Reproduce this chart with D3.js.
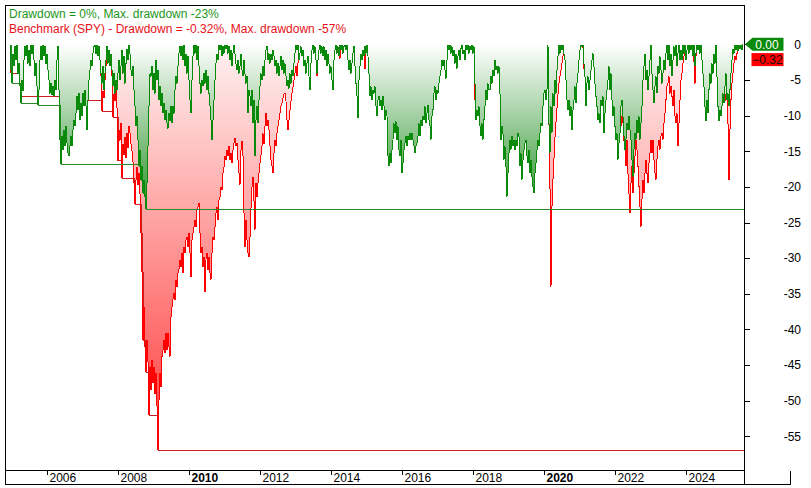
<!DOCTYPE html>
<html>
<head>
<meta charset="utf-8">
<script src="https://cdn.jsdelivr.net/npm/d3@7"></script>
<style>
html,body{margin:0;padding:0;background:#fff;}
svg{display:block;}
text{font-family:Arial,"Liberation Sans",sans-serif;}
</style>
</head>
<body>
<svg id="chart" width="811" height="488"></svg>
<script>
// ---- DATA (drawdown in %, sampled on a regular time grid) ----
const sampleStartYear = 2004.952;   // first sample (decimal year)
const sampleStepYears = 0.02817;    // ~10 days between samples

const strategyDD = [
 -0.1,-3.6,-5.4,-1.3,-3.1,-0.3,-2.2,-0.1,-4.1,-2.7,
 -5.9,-8.3,-5.0,-6.6,-2.2,-0.3,-1.7,-0.1,-2.7,-0.8,
 -3.1,-0.1,-1.3,-0.1,-2.2,-4.5,-2.7,-5.9,-8.5,-6.4,
 -2.2,-0.3,-2.2,-0.1,-1.7,-0.3,-2.7,-1.3,-3.6,-5.0,
 -6.9,-5.5,-7.1,-5.9,-7.3,-5.0,-6.4,-2.2,-0.3,-6.4,
 -13.4,-16.8,-12.9,-14.8,-12.0,-14.3,-11.5,-13.9,-15.3,-15.7,
 -14.3,-12.9,-14.3,-12.0,-10.6,-11.5,-9.7,-7.3,-9.2,-6.9,
 -10.6,-8.3,-10.1,-6.9,-8.7,-6.4,-8.7,-12.0,-7.8,-5.0,
 -3.6,-2.2,-3.1,-1.3,-0.3,-0.1,-1.3,-0.1,-1.7,-0.3,
 -2.2,-4.1,-5.5,-3.1,-6.4,-4.1,-2.2,-0.3,-2.7,-0.8,
 -3.1,-1.3,-3.6,-5.9,-4.1,-6.9,-5.0,-6.4,-4.1,-2.2,
 -5.0,-3.1,-0.8,-4.1,-1.7,-5.5,-2.7,-0.6,-2.2,-0.1,
 -1.3,-3.6,-4.5,-3.1,-6.4,-8.7,-11.5,-10.1,-13.4,-17.1,
 -14.8,-19.0,-17.1,-20.9,-19.0,-21.4,-23.1,-19.5,-14.3,-8.7,
 -4.1,-4.5,-3.1,-6.4,-4.1,-6.9,-2.2,-5.0,-3.6,-7.8,
 -5.9,-8.7,-6.9,-9.7,-8.3,-10.6,-9.2,-11.1,-11.8,-9.7,
 -10.8,-8.7,-11.1,-8.7,-9.7,-6.4,-4.5,-5.5,-3.1,-1.3,
 -0.3,-1.7,-0.3,-2.2,-0.1,-3.1,-1.3,-4.1,-1.7,-5.0,
 -7.8,-9.7,-5.0,-1.7,-0.1,-1.3,-0.1,-2.2,-0.3,-3.1,
 -5.5,-6.9,-5.0,-5.9,-4.1,-5.5,-3.6,-6.4,-4.5,-6.9,
 -8.7,-10.6,-13.4,-10.6,-7.8,-5.0,-2.7,-1.3,-2.2,-0.1,
 -0.8,-0.1,-1.7,-0.3,-1.3,-0.1,-0.6,-0.1,-1.3,-0.3,
 -2.2,-0.8,-3.1,-1.3,-0.1,-1.3,-2.7,-3.6,-2.2,-4.1,
 -3.1,-1.3,-3.6,-4.5,-2.2,-4.1,-5.5,-4.5,-9.7,-6.4,
 -7.3,-8.7,-6.4,-11.1,-7.8,-15.7,-10.6,-8.7,-11.1,-7.8,
 -5.9,-4.1,-5.0,-3.1,-4.5,-2.2,-0.8,-0.3,-2.2,-1.3,
 -2.7,-1.3,-2.2,-0.8,-1.7,-3.1,-2.2,-4.1,-2.7,-4.5,
 -3.1,-1.7,-3.6,-2.2,-4.1,-2.7,-4.5,-5.9,-5.0,-6.2,
 -4.1,-5.5,-3.6,-4.5,-2.7,-1.3,-0.1,-0.8,-0.1,-2.2,
 -1.3,-0.3,-1.7,-0.8,-3.1,-2.2,-4.1,-2.7,-1.7,-4.5,
 -6.4,-2.7,-0.8,-0.1,-1.3,-0.3,-2.2,-4.1,-2.2,-0.8,
 -0.1,-1.3,-0.3,-1.7,-0.3,-2.2,-0.8,-3.1,-1.3,-2.7,
 -4.1,-3.1,-5.0,-6.4,-2.2,-0.8,-0.1,-1.3,-0.3,-1.7,
 -0.1,-0.8,-0.1,-1.3,-0.3,-0.1,-0.8,-0.1,-2.2,-3.6,
 -2.2,-4.1,-2.7,-1.3,-0.3,-3.1,-5.5,-7.3,-10.4,-5.0,
 -3.1,-1.3,-2.2,-0.8,-1.7,-0.3,-1.3,-0.1,-1.7,-4.1,
 -7.3,-5.9,-7.8,-6.4,-6.9,-5.9,-8.7,-10.1,-7.8,-7.3,
 -8.7,-7.8,-9.2,-7.3,-8.7,-10.6,-9.2,-10.1,-15.7,-17.1,
 -15.3,-16.7,-14.8,-13.4,-11.1,-12.5,-10.8,-13.4,-11.5,-14.8,
 -15.7,-13.4,-18.1,-16.7,-14.8,-13.9,-12.9,-14.3,-12.9,-13.4,
 -12.5,-13.4,-12.5,-13.4,-14.3,-15.3,-14.3,-13.9,-12.9,-11.1,
 -12.9,-10.6,-11.5,-10.1,-10.6,-8.7,-11.1,-9.7,-8.5,-10.6,
 -11.5,-13.4,-10.1,-9.2,-6.9,-5.9,-7.8,-6.4,-6.9,-5.5,
 -4.5,-3.6,-2.2,-3.1,-2.2,-3.6,-4.8,-2.2,-0.1,-0.8,
 -0.1,-1.3,-0.3,-1.7,-0.8,-2.7,-1.3,-3.4,-1.7,-0.8,
 -2.2,-0.6,-0.1,-1.3,-0.8,-2.2,-0.1,-0.8,-0.1,-1.3,
 -0.3,-0.8,-0.1,-1.3,-0.3,-5.5,-10.6,-9.2,-10.1,-8.7,
 -11.5,-12.9,-11.1,-13.4,-10.6,-8.7,-6.4,-7.8,-5.5,-6.4,
 -6.4,-4.5,-5.5,-3.6,-4.5,-2.2,-3.6,-3.1,-4.1,-3.1,
 -6.9,-13.4,-11.5,-12.5,-16.2,-14.3,-17.1,-21.4,-18.1,-15.3,
 -13.4,-14.8,-12.9,-14.3,-13.4,-14.8,-13.4,-14.3,-12.5,-12.9,
 -17.1,-15.3,-19.0,-16.2,-14.8,-13.9,-13.4,-15.7,-16.7,-14.8,
 -18.1,-16.2,-18.6,-20.0,-20.9,-18.1,-16.7,-14.8,-13.4,-14.3,
 -12.5,-11.1,-11.5,-8.7,-6.9,-6.4,-7.8,-6.4,-0.1,-11.1,
 -15.3,-8.7,-12.5,-6.9,-8.7,-5.0,-6.9,-3.6,-1.7,-0.1,
 -1.3,-0.1,-0.8,-0.1,-1.3,-2.2,-5.0,-7.8,-9.2,-7.8,
 -10.1,-8.7,-12.0,-9.2,-7.8,-5.9,-8.3,-5.5,-4.1,-2.2,
 -0.8,-0.1,-0.3,-0.1,-2.7,-4.5,-8.7,-5.5,-4.5,-6.4,
 -5.0,-3.6,-2.2,-1.3,-3.1,-5.5,-7.3,-8.7,-10.6,-9.7,
 -11.1,-7.8,-8.7,-7.3,-12.5,-9.7,-7.8,-6.4,-5.0,-3.1,
 -6.4,-4.1,-7.8,-10.1,-8.7,-11.5,-13.4,-12.5,-16.2,-13.9,
 -12.5,-8.7,-7.8,-10.1,-12.9,-14.8,-13.4,-11.1,-12.0,-10.1,
 -12.0,-13.4,-16.2,-18.6,-14.8,-12.5,-13.4,-10.6,-12.5,-10.1,
 -13.4,-11.1,-8.7,-5.0,-3.1,-1.3,-5.0,-3.6,-6.4,-4.5,
 -2.2,-0.1,-4.1,-6.4,-8.3,-5.9,-4.5,-6.9,-3.1,-4.1,
 -1.7,-3.6,-5.5,-4.1,-2.2,-3.6,-1.3,-0.1,-2.2,-0.1,
 -3.1,-1.3,-4.5,-2.2,-0.3,-1.7,-0.1,-3.1,-1.3,-0.1,
 -2.2,-0.8,-2.2,-0.1,-1.3,-0.1,-2.2,-0.8,-0.1,-1.3,
 -0.1,-0.8,-0.1,-1.7,-0.1,-3.1,-1.3,-0.1,-0.8,-0.1,
 -1.3,-0.1,-2.2,-4.1,-5.9,-8.7,-10.8,-7.8,-9.7,-6.4,
 -4.1,-5.5,-2.7,-4.1,-1.3,-2.7,-0.1,-4.5,-8.7,-10.8,
 -9.2,-10.1,-8.7,-6.9,-8.3,-5.9,-4.1,-7.8,-6.9,-8.7,
 -6.4,-4.1,-2.2,-0.6,-1.3,-0.1,-0.8,-0.1,-1.0,-0.1,
 -0.6,-0.1,-0.8,0
];

const benchmarkDD = [
 -0.1,-4.0,-2.5,-1.5,-2.8,-1.0,-2.0,-0.5,-3.5,-2.5,
 -5.0,-7.3,-4.5,-5.5,-2.0,-0.8,-1.5,-0.3,-2.0,-0.8,
 -2.5,-0.3,-1.0,-0.2,-1.8,-3.0,-2.0,-3.5,-5.0,-4.0,
 -1.5,-0.5,-1.5,-0.2,-1.0,-0.3,-1.5,-1.0,-2.0,-3.0,
 -3.5,-3.0,-4.0,-3.0,-3.5,-2.5,-3.0,-1.0,-0.2,-2.0,
 -4.5,-7.0,-5.5,-6.5,-5.0,-6.0,-5.0,-5.5,-6.0,-6.5,
 -6.0,-5.0,-5.5,-4.5,-4.0,-4.5,-3.5,-2.5,-3.0,-2.0,
 -3.0,-2.5,-3.0,-2.0,-2.5,-1.5,-2.0,-7.8,-5.0,-3.0,
 -2.5,-1.5,-2.0,-1.0,-0.3,-0.1,-0.8,-0.2,-1.2,-0.5,
 -2.0,-4.5,-9.4,-6.5,-7.5,-5.0,-3.0,-1.0,-2.5,-1.5,
 -3.0,-2.0,-4.5,-10.2,-7.0,-8.0,-6.0,-9.0,-16.3,-12.0,
 -13.5,-11.0,-18.7,-14.0,-15.5,-13.0,-16.0,-12.5,-14.5,-11.5,
 -12.5,-14.0,-15.0,-16.5,-19.5,-22.4,-19.0,-17.2,-19.8,-18.0,
 -21.0,-26.5,-32.0,-41.5,-36.8,-42.4,-45.9,-41.5,-44.5,-52.0,
 -45.2,-48.5,-44.3,-47.5,-45.2,-49.0,-46.1,-50.8,-56.9,-49.9,
 -46.1,-48.0,-43.8,-42.9,-41.5,-43.3,-40.5,-42.9,-40.5,-42.4,
 -43.8,-38.2,-36.8,-35.8,-34.9,-35.8,-33.0,-34.0,-32.1,-31.6,
 -30.2,-31.2,-29.3,-32.1,-28.4,-29.3,-27.4,-27.0,-28.4,-26.5,
 -29.3,-32.6,-27.4,-26.5,-25.6,-24.6,-25.6,-23.2,-22.8,-22.3,
 -26.5,-29.3,-28.4,-31.2,-29.8,-34.7,-30.2,-29.3,-31.6,-29.8,
 -32.1,-33.0,-29.3,-27.0,-27.4,-25.6,-23.7,-22.8,-24.6,-21.8,
 -21.4,-20.0,-20.4,-18.1,-17.2,-15.7,-16.2,-14.8,-15.7,-14.3,
 -16.2,-15.3,-16.7,-14.8,-13.9,-13.2,-14.3,-13.9,-16.2,-18.1,
 -19.7,-14.8,-13.6,-15.7,-23.7,-28.4,-24.6,-27.4,-29.3,-29.8,
 -27.0,-23.0,-20.0,-18.6,-22.0,-26.0,-19.5,-21.4,-19.5,-18.1,
 -16.7,-15.5,-14.3,-12.5,-14.0,-11.5,-9.7,-11.5,-10.6,-12.0,
 -14.3,-16.2,-17.1,-18.1,-15.3,-13.4,-14.3,-12.5,-11.5,-10.6,
 -9.7,-8.7,-8.3,-7.6,-7.0,-6.8,-8.0,-10.6,-12.0,-10.6,
 -9.2,-8.0,-6.9,-6.0,-5.0,-4.1,-3.1,-4.5,-2.7,-1.3,
 -1.0,-0.3,-0.8,-0.3,-1.5,-1.0,-2.0,-1.5,-1.0,-2.5,
 -3.5,-1.5,-0.5,-0.1,-0.5,-0.2,-1.5,-4.5,-1.5,-0.5,
 -0.1,-0.8,-0.2,-1.0,-0.2,-1.3,-0.5,-2.0,-0.8,-1.5,
 -2.5,-2.0,-3.0,-4.0,-1.5,-0.5,-0.1,-0.8,-0.2,-1.0,
 -2.0,-0.5,-0.1,-0.8,-0.2,-0.1,-0.5,-0.1,-1.0,-2.0,
 -1.0,-2.5,-1.5,-0.5,-0.2,-1.5,-3.0,-4.0,-5.5,-2.5,
 -1.5,-0.5,-1.0,-0.3,-0.8,-3.5,-1.0,-0.2,-1.5,-3.5,
 -4.5,-2.5,-3.0,-2.0,-2.5,-1.5,-3.0,-3.5,-2.5,-2.0,
 -3.0,-2.5,-3.5,-2.5,-3.0,-4.0,-3.5,-4.0,-9.5,-12.0,
 -10.0,-11.5,-10.0,-8.5,-6.5,-7.5,-6.5,-8.0,-7.0,-9.0,
 -10.5,-9.0,-13.0,-12.0,-10.5,-9.0,-7.5,-8.0,-6.5,-6.0,
 -5.0,-5.5,-4.0,-3.5,-4.5,-5.5,-4.0,-3.0,-2.0,-1.5,
 -2.5,-1.0,-1.5,-0.5,-1.0,-0.3,-1.5,-0.8,-0.3,-1.0,
 -1.5,-3.0,-1.5,-0.8,-0.3,-0.1,-0.5,-0.2,-0.5,-0.1,
 -0.3,-0.1,-0.2,-0.5,-0.1,-0.8,-1.2,-0.3,-0.1,-0.3,
 -0.1,-0.5,-0.1,-0.4,-0.1,-0.6,-0.2,-0.8,-0.3,-0.1,
 -0.5,-0.1,-0.1,-0.3,-0.1,-0.5,-0.1,-0.2,-0.1,-0.3,
 -0.1,-0.2,-0.1,-0.3,-0.1,-7.8,-9.5,-8.0,-9.0,-7.0,
 -8.5,-9.5,-8.0,-9.0,-7.0,-5.5,-4.0,-5.0,-3.5,-4.0,
 -3.0,-2.0,-2.5,-1.5,-1.0,-0.3,-0.8,-0.2,-0.5,-0.1,
 -4.0,-9.0,-8.0,-9.5,-12.0,-11.0,-14.0,-19.4,-15.0,-11.0,
 -8.5,-8.0,-6.5,-5.5,-4.5,-3.5,-2.5,-2.0,-1.0,-0.5,
 -3.5,-2.5,-6.0,-3.5,-2.0,-1.0,-0.5,-2.0,-3.0,-1.5,
 -4.0,-2.5,-5.0,-4.0,-6.0,-4.0,-3.0,-2.0,-1.5,-1.0,
 -0.5,-0.2,-0.5,-0.1,-0.3,-0.1,-0.5,-0.1,-2.0,-11.0,
 -20.0,-34.0,-22.8,-19.0,-16.0,-13.0,-11.0,-9.0,-7.0,-5.5,
 -4.5,-3.6,-2.7,-1.7,-0.8,-0.1,-2.0,-5.0,-7.0,-5.5,
 -8.0,-6.0,-9.0,-6.5,-5.0,-3.0,-4.5,-2.0,-1.0,-0.3,
 -0.1,-0.2,-0.1,-0.5,-3.5,-2.0,-1.5,-0.5,-0.3,-1.0,
 -0.5,-0.2,-0.1,-0.3,-0.8,-1.5,-2.5,-3.5,-4.0,-3.0,
 -4.5,-2.5,-3.0,-2.0,-5.0,-3.5,-2.0,-1.0,-0.5,-0.2,
 -1.0,-0.5,-2.0,-4.0,-3.0,-5.5,-7.5,-6.5,-9.5,-12.0,
 -12.5,-11.5,-10.0,-11.0,-13.5,-14.8,-17.1,-13.4,-18.1,-20.9,
 -23.7,-19.5,-17.1,-20.9,-18.1,-15.7,-13.4,-14.8,-17.1,-19.9,
 -22.8,-25.6,-21.8,-19.0,-20.9,-18.1,-16.2,-18.1,-19.5,-16.7,
 -15.3,-13.4,-15.3,-13.4,-16.2,-18.1,-19.0,-16.2,-14.3,-13.4,
 -14.8,-12.9,-12.5,-13.4,-11.1,-9.7,-7.8,-5.9,-5.5,-4.5,
 -6.9,-5.9,-7.3,-8.7,-6.4,-10.1,-11.1,-9.7,-14.3,-11.1,
 -7.8,-5.0,-4.1,-2.7,-1.7,-0.8,-0.1,-0.5,-0.1,-0.8,
 -0.2,-0.5,-0.1,-1.0,-2.5,-5.5,-1.7,-0.3,-0.5,-0.1,
 -0.8,-0.2,-1.5,-3.0,-5.0,-7.5,-8.5,-6.0,-7.0,-5.0,
 -3.0,-4.0,-2.0,-3.0,-1.0,-2.0,-0.1,-2.5,-5.0,-7.0,
 -6.0,-7.5,-6.5,-6.0,-7.5,-8.0,-7.0,-6.0,-11.1,-19.1,
 -12.0,-7.8,-5.5,-4.1,-2.7,-1.7,-2.2,-1.3,-0.8,-0.3,
 -0.5,-0.2,-0.4,-0.32
];

const yTickValues = [0,-5,-10,-15,-20,-25,-30,-35,-40,-45,-50,-55];
const xTickYears  = [2006,2008,2010,2012,2014,2016,2018,2020,2022,2024];
const boldYears   = [2010,2020];
const benchmarkName = "SPY";

// ---- LAYOUT ----
const plot = {left:5, right:744.5, top:5, bottom:470, stripBottom:484.5};
const svg = d3.select("#chart");

const x = d3.scaleLinear().domain([2004.811, 2025.643]).range([plot.left, plot.right]);
const y = d3.scaleLinear().domain([5.51, -59.71]).range([plot.top, plot.bottom]);

const toSeries = arr => arr.map((v,i) => ({t: sampleStartYear + i*sampleStepYears, v}));
const gS = toSeries(strategyDD);
const rS = toSeries(benchmarkDD);
const runMin = s => { let m = 0; return s.map(d => { m = Math.min(m, d.v); return {t:d.t, v:m}; }); };
const gMin = runMin(gS), rMin = runMin(rS);

const GREEN = "#0a8a0a", RED = "#ff0000";

// gradients
const defs = svg.append("defs");
function grad(id, v1, c0, c1){
  const g = defs.append("linearGradient").attr("id", id)
    .attr("gradientUnits","userSpaceOnUse")
    .attr("x1",0).attr("x2",0).attr("y1",y(0)).attr("y2",y(v1));
  g.append("stop").attr("offset",0).attr("stop-color",c0);
  g.append("stop").attr("offset",1).attr("stop-color",c1);
}
grad("gGrad", d3.min(strategyDD), "#ffffff", "#2a932a");
grad("rGrad", d3.min(benchmarkDD), "#fff2f2", "#ff3a3a");

const clip = defs.append("clipPath").attr("id","plotClip");
clip.append("rect").attr("x",plot.left).attr("y",plot.top)
  .attr("width",plot.right-plot.left).attr("height",plot.bottom-plot.top);

const area = d3.area().x(d => x(d.t)).y0(y(0)).y1(d => y(d.v));
const line = d3.line().x(d => x(d.t)).y(d => y(d.v));
const step = d3.line().x(d => Math.round(x(d.t))+0.5).y(d => Math.round(y(d.v))+0.5).curve(d3.curveStepAfter);

const g = svg.append("g").attr("clip-path","url(#plotClip)");
g.append("path").datum(rS).attr("d",area).attr("fill","url(#rGrad)");
g.append("path").datum(rMin).attr("d",step).attr("fill","none").attr("stroke","#cc1f1f").attr("stroke-width",1).attr("shape-rendering","crispEdges");
g.append("path").datum(rS).attr("d",line).attr("fill","none").attr("stroke",RED).attr("stroke-width",1).attr("shape-rendering","crispEdges");
g.append("path").datum(gS).attr("d",area).attr("fill","url(#gGrad)");
g.append("path").datum(gMin).attr("d",step).attr("fill","none").attr("stroke","#2a8a2a").attr("stroke-width",1).attr("shape-rendering","crispEdges");
g.append("path").datum(gS).attr("d",line).attr("fill","none").attr("stroke",GREEN).attr("stroke-width",1).attr("shape-rendering","crispEdges");

// ---- FRAME & AXES ----
const frame = svg.append("g").attr("stroke","#000").attr("stroke-width",1).attr("shape-rendering","crispEdges");
frame.append("line").attr("x1",5.5).attr("x2",5.5).attr("y1",5).attr("y2",plot.stripBottom);
frame.append("line").attr("x1",5).attr("x2",plot.right).attr("y1",5.5).attr("y2",5.5);
frame.append("line").attr("x1",plot.right).attr("x2",plot.right).attr("y1",5).attr("y2",plot.stripBottom);
frame.append("line").attr("x1",5).attr("x2",plot.right).attr("y1",plot.bottom+0.5).attr("y2",plot.bottom+0.5);
frame.append("line").attr("x1",5).attr("x2",790.5).attr("y1",plot.stripBottom).attr("y2",plot.stripBottom);
frame.append("line").attr("x1",790.5).attr("x2",790.5).attr("y1",plot.bottom+0.5).attr("y2",plot.stripBottom);

// Y axis (right)
const yAxis = svg.append("g");
yTickValues.forEach(v => {
  const yy = Math.round(y(v)) + 0.5;
  yAxis.append("line").attr("x1",plot.right).attr("x2",plot.right+5).attr("y1",yy).attr("y2",yy)
    .attr("stroke","#000").attr("shape-rendering","crispEdges");
  yAxis.append("text").attr("x",801).attr("y",y(v)+4.3).attr("text-anchor","end")
    .attr("font-size",12).attr("fill","#000").text(v);
});

// X axis (bottom)
const xAxis = svg.append("g");
xTickYears.forEach(yr => {
  const xx = Math.round(x(yr)) + 0.5;
  xAxis.append("line").attr("x1",xx).attr("x2",xx).attr("y1",plot.bottom).attr("y2",plot.bottom+5)
    .attr("stroke","#000").attr("shape-rendering","crispEdges");
  xAxis.append("text").attr("x",xx+2).attr("y",482).attr("font-size",12)
    .attr("font-weight", boldYears.includes(yr) ? "bold" : "normal")
    .attr("fill","#000").text(yr);
});

// ---- LEGEND ----
const fmtPct = v => (Math.round(v*100)/100).toString();
const gLast = strategyDD[strategyDD.length-1], rLast = benchmarkDD[benchmarkDD.length-1];
const gMaxDD = Math.round(d3.min(strategyDD)), rMaxDD = Math.round(d3.min(benchmarkDD));
svg.append("text").attr("x",9).attr("y",18).attr("font-size",12).attr("fill","#1a961a")
  .text(`Drawdown = ${fmtPct(gLast)}%, Max. drawdown ${gMaxDD}%`);
svg.append("text").attr("x",9).attr("y",32.6).attr("font-size",12).attr("fill","#e8101a")
  .text(`Benchmark (${benchmarkName}) - Drawdown = ${fmtPct(rLast)}%, Max. drawdown ${rMaxDD}%`);

// ---- LAST-VALUE LABELS ----
const gy = y(gLast);
svg.append("path")
  .attr("d",`M${plot.right+0.5},${gy} L${plot.right+8},${gy-6.5} L783.5,${gy-6.5} L783.5,${gy+6.5} L${plot.right+8},${gy+6.5} Z`)
  .attr("fill",GREEN);
svg.append("text").attr("x",767).attr("y",gy+4.3).attr("text-anchor","middle").attr("font-size",12)
  .attr("fill","#fff").text(d3.format(".2f")(gLast));
const ry = gy + 15.3;
svg.append("rect").attr("x",751.5).attr("y",ry-6.5).attr("width",32).attr("height",13).attr("fill",RED);
svg.append("text").attr("x",767.5).attr("y",ry+4.3).attr("text-anchor","middle").attr("font-size",12)
  .attr("fill","#111").text(d3.format(".2f")(rLast));
</script>
</body>
</html>
